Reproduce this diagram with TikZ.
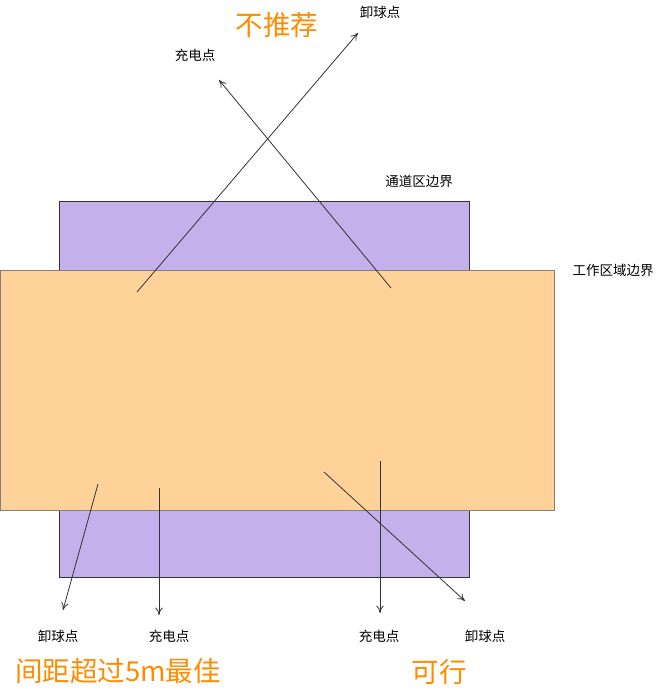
\documentclass[tikz,border=0pt]{standalone}
\usepackage{fontspec}
\newfontfamily\cjk{Noto Sans CJK SC}
\usepackage{xcolor}
\usetikzlibrary{arrows.meta}
\definecolor{lanepurple}{RGB}{196,176,234}
\definecolor{workorange}{RGB}{255,210,153}
\definecolor{inkgrey}{RGB}{51,51,51}
\definecolor{hintorange}{RGB}{255,140,0}
\tikzset{
  lanebox/.style={draw=inkgrey,fill=lanepurple,line width=0.9pt,inner sep=0pt,anchor=north west},
  workbox/.style={draw=black!50,fill=workorange,line width=0.9pt,inner sep=0pt,anchor=north west},
  lbl/.style={font=\cjk\fontsize{13.5}{15}\selectfont,inner sep=0pt},
  hint/.style={font=\cjk\fontsize{27.5}{32}\selectfont,text=hintorange,inner sep=0pt},
  ar/.style={-{To[length=2.6mm,width=2.6mm]},draw=inkgrey,line width=0.8pt},
}

\begin{document}
\begin{tikzpicture}[x=1pt,y=-1pt]
\useasboundingbox (0,0) rectangle (661,695);
% zones
\node[lanebox,minimum width=410pt,minimum height=376pt] (lane) at (59,201) {};
\node[workbox,minimum width=554pt,minimum height=240pt] (work) at (0,270) {};
\node[lbl] (lanelbl) at (419,181) {通道区边界};
\node[lbl] (worklbl) at (613,270) {工作区域边界};

% not recommended
\node[hint] (badhint) at (277,25) {不推荐};
\node[lbl] (baddrop) at (380,12) {卸球点};
\node[lbl] (badchg) at (195,55) {充电点};
\coordinate (baddrop0) at (137,292); \coordinate (baddrop1) at (358,33);
\coordinate (badchg0) at (391,288);  \coordinate (badchg1) at (219,80);
\draw[ar] (baddrop0) -- (baddrop1);
\draw[ar] (badchg0) -- (badchg1);

% best
\node[lbl] (bestdrop) at (58,636) {卸球点};
\node[lbl] (bestchg) at (169,636) {充电点};
\node[hint] (besthint) at (118,671) {间距超过5m最佳};
\coordinate (bestdrop0) at (98,484); \coordinate (bestdrop1) at (63,610);
\coordinate (bestchg0) at (159,488); \coordinate (bestchg1) at (159,615);
\draw[ar] (bestdrop0) -- (bestdrop1);
\draw[ar] (bestchg0) -- (bestchg1);

% feasible
\node[lbl] (okchg) at (379,636) {充电点};
\node[lbl] (okdrop) at (485,636) {卸球点};
\node[hint] (okhint) at (439,672) {可行};
\coordinate (okchg0) at (380,461); \coordinate (okchg1) at (380,613);
\coordinate (okdrop0) at (324,472); \coordinate (okdrop1) at (465,601);
\draw[ar] (okchg0) -- (okchg1);
\draw[ar] (okdrop0) -- (okdrop1);
\end{tikzpicture}
\end{document}
